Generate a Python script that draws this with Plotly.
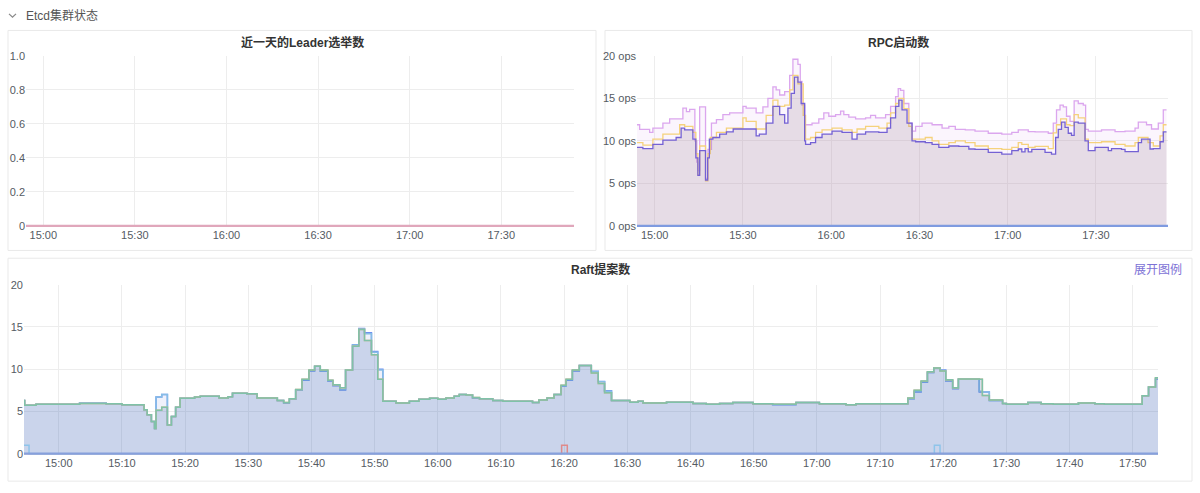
import plotly.graph_objects as go

W, H = 1200, 493
DAY = "2024-01-01 "

# ---------------- data ----------------
leader_times = ["14:54:00", "17:54:00"]
leader_values = [0, 0]

rpc_pink_times = ["14:54:00","14:54:54","14:58:18","14:59:24","15:02:48","15:05:06","15:09:36","15:10:48","15:11:54","15:13:00","15:13:40","15:14:20","15:14:42","15:15:18","15:17:18","15:18:06","15:19:18","15:21:00","15:23:12","15:25:30","15:30:00","15:31:06","15:34:30","15:36:48","15:38:30","15:40:12","15:41:18","15:42:30","15:44:12","15:45:54","15:47:00","15:48:42","15:49:30","15:50:06","15:51:00","15:53:30","15:55:48","15:57:30","15:59:12","16:01:30","16:03:12","16:04:18","16:06:00","16:08:18","16:11:42","16:13:24","16:15:06","16:18:30","16:20:12","16:21:54","16:22:48","16:23:36","16:24:42","16:26:24","16:27:30","16:28:42","16:30:54","16:34:18","16:37:42","16:40:00","16:42:12","16:45:36","16:48:54","16:53:24","16:58:00","17:01:24","17:03:36","17:07:00","17:09:18","17:13:48","17:15:30","17:16:36","17:17:48","17:18:54","17:20:00","17:21:12","17:22:36","17:24:00","17:25:42","17:26:30","17:27:24","17:31:54","17:36:30","17:39:54","17:43:18","17:44:24","17:47:12","17:48:54","17:51:12","17:52:54","17:54:00"]
rpc_pink = [11.9,11.35,11.0,11.5,12.1,12.6,13.85,13.45,13.7,13.7,10.0,7.5,6.5,14.0,5.6,9.0,12.1,12.5,13.1,13.3,14.05,13.85,13.3,14.0,15.0,16.35,16.0,15.4,15.8,17.7,19.6,19.0,17.0,14.2,11.9,12.1,12.6,13.3,12.9,13.1,13.5,13.1,12.8,12.6,12.7,13.0,12.7,13.1,14.05,15.2,16.15,15.95,14.4,12.1,11.15,11.7,12.1,11.9,11.5,11.7,11.35,11.3,11.15,10.9,10.8,11.0,11.3,11.1,11.05,10.9,12.1,13.65,14.2,14.0,12.9,12.3,14.7,14.4,14.2,11.35,11.15,11.3,11.1,11.15,11.5,12.2,11.9,11.4,12.1,13.65,13.65]

rpc_yellow_times = ["14:54:00","14:56:00","14:59:24","15:02:48","15:08:30","15:10:12","15:13:00","15:14:00","15:14:42","15:15:18","15:17:18","15:18:06","15:18:54","15:21:00","15:24:24","15:30:00","15:31:06","15:34:30","15:37:54","15:40:12","15:41:54","15:44:12","15:45:54","15:47:00","15:48:42","15:50:30","15:51:18","15:53:00","15:54:42","15:56:54","16:00:18","16:03:42","16:07:06","16:08:48","16:11:42","16:16:12","16:19:00","16:20:12","16:21:54","16:23:00","16:24:42","16:26:24","16:27:30","16:32:00","16:34:18","16:36:36","16:40:00","16:42:12","16:45:36","16:48:54","16:53:24","16:58:00","17:01:24","17:03:36","17:04:48","17:07:00","17:09:18","17:13:48","17:15:30","17:16:36","17:18:00","17:20:00","17:21:12","17:22:36","17:24:00","17:26:18","17:27:24","17:31:54","17:36:30","17:39:54","17:43:18","17:44:24","17:47:42","17:49:30","17:51:48","17:52:54","17:54:00"]
rpc_yellow = [9.8,9.5,10.2,10.8,11.9,11.7,11.0,8.5,6.0,9.4,5.3,8.5,10.4,11.0,11.5,12.7,12.3,11.4,13.0,14.8,14.05,14.2,16.0,17.7,16.7,13.0,10.2,10.4,11.0,11.3,11.5,11.3,11.0,11.4,11.7,11.5,12.1,13.3,14.4,15.0,13.8,11.7,10.2,10.4,10.0,9.6,9.8,10.0,9.8,9.4,9.1,9.0,9.25,9.8,9.6,9.25,9.35,9.1,10.95,11.9,12.6,11.9,11.8,13.1,12.7,10.2,9.8,9.9,9.6,9.4,9.8,10.4,9.8,9.4,10.6,11.9,11.9]

rpc_purple_times = ["14:54:00","14:56:00","14:59:24","15:02:48","15:07:18","15:09:00","15:10:12","15:13:00","15:14:00","15:14:42","15:15:18","15:17:18","15:18:00","15:18:36","15:19:48","15:22:06","15:24:24","15:26:42","15:34:30","15:35:36","15:37:54","15:40:12","15:42:30","15:44:12","15:45:18","15:46:24","15:47:30","15:48:42","15:49:48","15:51:00","15:51:18","15:53:00","15:54:42","15:56:54","16:00:18","16:03:42","16:07:06","16:08:48","16:11:42","16:16:12","16:19:00","16:20:12","16:21:54","16:23:00","16:24:06","16:25:48","16:27:30","16:28:42","16:32:00","16:34:18","16:36:36","16:40:00","16:43:24","16:46:48","16:48:54","16:53:24","16:58:00","17:01:24","17:03:36","17:04:48","17:05:54","17:07:00","17:08:12","17:12:42","17:14:54","17:16:18","17:17:12","17:18:18","17:19:30","17:20:36","17:21:42","17:22:36","17:24:00","17:26:18","17:27:24","17:29:42","17:34:12","17:35:18","17:38:42","17:39:54","17:44:24","17:45:30","17:48:24","17:49:30","17:51:48","17:52:54","17:54:00"]
rpc_purple = [9.25,9.1,9.6,10.1,10.4,11.5,11.3,10.2,8.0,5.95,8.85,5.4,8.0,10.2,10.4,10.8,11.05,11.4,10.6,10.8,12.1,14.05,13.1,12.1,13.85,15.6,17.5,16.9,14.4,10.0,9.6,9.8,10.4,10.8,11.15,11.0,10.2,10.8,11.05,11.0,11.5,12.7,14.05,14.8,13.65,12.1,10.0,9.9,9.8,9.6,9.25,9.4,9.35,9.05,9.0,8.65,8.45,8.85,9.05,8.7,9.1,8.7,9.0,8.65,8.45,10.4,11.35,12.2,11.6,10.9,10.65,12.2,12.1,10.0,8.85,9.25,8.85,9.1,9.0,8.75,9.8,10.2,9.05,9.1,9.9,11.05,11.05]

rpc_zero_times = ["14:54:00", "17:54:30"]
rpc_zero = [0, 0]

raft_times = ["14:54:00","14:54:36","14:56:24","15:03:18","15:07:30","15:10:00","15:13:30","15:14:00","15:14:40","15:15:10","15:15:24","15:16:18","15:17:12","15:17:50","15:18:30","15:19:12","15:21:30","15:22:24","15:25:24","15:26:48","15:27:30","15:29:48","15:31:24","15:34:36","15:35:36","15:36:30","15:37:30","15:38:30","15:39:36","15:40:30","15:41:24","15:42:36","15:43:24","15:44:30","15:45:24","15:46:30","15:47:30","15:48:24","15:49:30","15:50:30","15:51:18","15:53:24","15:55:30","15:57:00","15:58:42","16:00:00","16:01:18","16:02:36","16:03:24","16:04:30","16:05:30","16:06:36","16:08:42","16:10:18","16:15:00","16:16:00","16:17:18","16:18:24","16:19:30","16:20:18","16:21:18","16:22:24","16:24:18","16:25:24","16:26:24","16:27:30","16:30:24","16:31:42","16:32:30","16:36:12","16:40:24","16:42:30","16:44:36","16:46:42","16:49:54","16:53:00","16:56:42","17:00:24","17:04:36","17:06:12","17:14:24","17:15:24","17:16:30","17:17:30","17:18:30","17:19:30","17:20:24","17:21:30","17:22:24","17:25:42","17:26:12","17:27:18","17:29:24","17:30:00","17:33:24","17:35:30","17:37:24","17:41:24","17:44:00","17:45:30","17:51:30","17:52:30","17:53:36","17:54:00"]
raft_blue = [6.3,5.75,5.85,6.0,5.9,5.8,5.2,4.6,3.8,3.0,6.7,7.0,3.4,4.4,5.5,6.55,6.7,6.8,6.6,6.75,7.15,7.1,6.6,6.3,6.0,6.45,7.5,8.7,9.8,10.35,9.75,8.6,8.05,7.55,9.9,12.9,14.8,14.3,12.1,10.0,6.2,6.0,6.2,6.45,6.55,6.45,6.6,6.8,7.0,6.95,6.6,6.5,6.3,6.2,6.05,6.35,6.6,7.0,8.0,8.7,9.8,10.45,9.75,8.55,7.45,6.3,6.1,6.2,6.0,6.1,5.95,5.85,5.95,6.05,5.9,5.8,6.05,5.9,5.8,5.9,6.5,7.3,8.45,9.6,10.15,9.9,8.6,7.7,8.8,7.3,7.3,6.3,5.95,5.85,6.05,5.9,5.85,6.0,5.9,5.85,6.85,7.9,8.8,8.8]
raft_cyan = [6.3,5.75,5.85,6.0,5.9,5.8,5.2,4.6,3.8,3.0,6.7,7.0,3.4,4.4,5.5,6.55,6.7,6.8,6.6,6.75,7.15,7.1,6.6,6.3,6.0,6.45,7.5,8.75,9.85,10.35,9.8,8.65,8.1,7.6,9.9,12.85,14.75,14.2,12.0,9.9,6.2,6.0,6.2,6.45,6.55,6.45,6.6,6.8,7.0,6.95,6.6,6.5,6.3,6.2,6.05,6.35,6.6,7.0,8.05,8.75,9.85,10.45,9.7,8.5,7.4,6.3,6.1,6.2,6.0,6.1,5.95,5.85,5.95,6.05,5.9,5.85,6.05,5.9,5.8,5.9,6.5,7.35,8.5,9.6,10.15,9.85,8.65,7.75,8.8,7.4,7.3,6.3,5.95,5.85,6.05,5.9,5.85,6.0,5.9,5.85,6.85,7.9,8.85,8.85]
raft_orange = [6.3,5.75,5.85,5.95,5.9,5.8,5.2,4.6,3.8,3.0,5.15,5.5,3.4,4.4,5.5,6.55,6.7,6.8,6.6,6.75,7.15,7.1,6.6,6.3,6.05,6.5,7.6,8.8,9.9,10.35,9.9,8.7,8.15,7.8,9.9,12.7,14.7,13.4,11.7,8.8,6.2,6.0,6.2,6.45,6.55,6.45,6.6,6.8,7.0,6.95,6.65,6.5,6.3,6.2,6.05,6.35,6.6,7.0,8.1,8.8,9.9,10.45,9.55,8.3,7.2,6.3,6.1,6.2,6.0,6.1,5.95,5.85,5.95,6.05,5.9,5.85,6.05,5.9,5.8,5.9,6.6,7.5,8.6,9.7,10.15,9.8,8.75,7.8,8.85,8.8,6.9,6.35,5.95,5.85,6.05,5.9,5.85,6.0,5.9,5.85,6.85,7.9,9.0,9.0]
raft_green = [6.3,5.75,5.85,5.95,5.9,5.8,5.2,4.6,3.8,3.0,5.15,5.5,3.4,4.4,5.5,6.55,6.7,6.8,6.6,6.75,7.15,7.1,6.6,6.3,6.05,6.5,7.6,8.8,9.9,10.35,9.9,8.7,8.15,7.8,9.9,12.7,14.7,13.4,11.7,8.8,6.2,6.0,6.2,6.45,6.55,6.45,6.6,6.8,7.0,6.95,6.65,6.5,6.3,6.2,6.05,6.35,6.6,7.0,8.1,8.8,9.9,10.45,9.55,8.3,7.2,6.3,6.1,6.2,6.0,6.1,5.95,5.85,5.95,6.05,5.9,5.85,6.05,5.9,5.8,5.9,6.6,7.5,8.6,9.7,10.15,9.8,8.75,7.8,8.85,8.8,6.9,6.35,5.95,5.85,6.05,5.9,5.85,6.0,5.9,5.85,6.85,7.9,9.0,9.0]

raft_spike_cyan_times = ["14:54:00","14:54:18","14:55:18","17:18:36","17:19:30","17:54:00"]
raft_spike_cyan = [0, 1, 0, 1, 0, 0]
raft_spike_red_times = ["14:54:00","16:19:36","16:20:30","17:54:00"]
raft_spike_red = [0, 1, 0, 0]
raft_zero_times = ["14:54:00", "17:54:00"]
raft_zero = [0, 0]

leader_yticks = [0, 0.2, 0.4, 0.6, 0.8, 1.0]
leader_ylabels = ["0", "0.2", "0.4", "0.6", "0.8", "1.0"]
rpc_yticks = [0, 5, 10, 15, 20]
rpc_ylabels = ["0 ops", "5 ops", "10 ops", "15 ops", "20 ops"]
raft_yticks = [0, 5, 10, 15, 20]
raft_ylabels = ["0", "5", "10", "15", "20"]

# --------------- helpers ---------------
def T(lst):
    return [DAY + t for t in lst]

def X(px):
    return px / W

def Y(py):
    return 1 - py / H

FONT = "Helvetica, Arial, 'Liberation Sans', 'Noto Sans CJK SC', sans-serif"
GRID = "#ededed"
TICK = "#555b63"

fig = go.Figure()

# leader panel
fig.add_trace(go.Scatter(x=T(leader_times), y=leader_values, mode="lines",
                         line=dict(color="#e0a7bb", width=2.5), xaxis="x", yaxis="y",
                         hoverinfo="skip"))

# RPC panel
def rpc_trace(t, v, color, fillcolor):
    fig.add_trace(go.Scatter(x=T(t), y=v, mode="lines", line=dict(color=color, width=1.3, shape="hv"),
                             fill="tozeroy", fillcolor=fillcolor, xaxis="x2", yaxis="y2",
                             hoverinfo="skip"))

rpc_trace(rpc_pink_times, rpc_pink, "#dba6ee", "rgba(225,170,240,0.12)")
rpc_trace(rpc_yellow_times, rpc_yellow, "#f5d27c", "rgba(240,210,140,0.0)")
rpc_trace(rpc_purple_times, rpc_purple, "#7461d4", "rgba(150,120,140,0.20)")
fig.add_trace(go.Scatter(x=T(rpc_zero_times), y=rpc_zero, mode="lines",
                         line=dict(color="#7f9be0", width=2.5), xaxis="x2", yaxis="y2",
                         hoverinfo="skip"))

# Raft panel
def raft_trace(v, color, fillcolor):
    fig.add_trace(go.Scatter(x=T(raft_times), y=v, mode="lines", line=dict(color=color, width=1.5, shape="hv"),
                             fill="tozeroy" if fillcolor else None, fillcolor=fillcolor,
                             xaxis="x3", yaxis="y3", hoverinfo="skip"))

raft_trace(raft_blue, "#6d8ff0", "rgba(100,120,220,0.10)")
raft_trace(raft_cyan, "#86bde6", None)
raft_trace(raft_orange, "#e2b48c", "rgba(57,99,174,0.20)")
raft_trace(raft_green, "#7fc2a8", None)
fig.add_trace(go.Scatter(x=T(raft_spike_red_times), y=raft_spike_red, mode="lines",
                         line=dict(color="#df8a8a", width=1.5, shape="hv"), xaxis="x3", yaxis="y3",
                         hoverinfo="skip"))
fig.add_trace(go.Scatter(x=T(raft_spike_cyan_times), y=raft_spike_cyan, mode="lines",
                         line=dict(color="#8ec4ea", width=1.5, shape="hv"), xaxis="x3", yaxis="y3",
                         hoverinfo="skip"))
fig.add_trace(go.Scatter(x=T(raft_zero_times), y=raft_zero, mode="lines",
                         line=dict(color="#86a0dc", width=2.5), xaxis="x3", yaxis="y3",
                         hoverinfo="skip"))

xcommon = dict(showgrid=True, gridcolor=GRID, gridwidth=1, zeroline=False, showline=False,
               ticks="", tickformat="%H:%M", tickfont=dict(size=11, color=TICK, family=FONT),
               fixedrange=True)
ycommon = dict(showgrid=True, gridcolor=GRID, gridwidth=1, zeroline=False, showline=False,
               ticks="", tickfont=dict(size=11, color=TICK, family=FONT), fixedrange=True)

fig.update_layout(
    width=W, height=H, autosize=False,
    margin=dict(l=0, r=0, t=0, b=0),
    paper_bgcolor="white", plot_bgcolor="white",
    showlegend=False,
    font=dict(family=FONT),
    xaxis=dict(xcommon, domain=[X(26), X(574)], anchor="y",
               range=[DAY + "14:54:20", DAY + "17:53:50"],
               dtick=30 * 60 * 1000, tick0=DAY + "15:00:00"),
    yaxis=dict(ycommon, domain=[Y(226), Y(51)], anchor="x", range=[-0.006, 1.0],
               tickvals=leader_yticks, ticktext=leader_ylabels),
    xaxis2=dict(xcommon, domain=[X(637), X(1168)], anchor="y2",
                range=[DAY + "14:54:00", DAY + "17:54:30"],
                dtick=30 * 60 * 1000, tick0=DAY + "15:00:00"),
    yaxis2=dict(ycommon, domain=[Y(226), Y(51)], anchor="x2", range=[-0.12, 20],
                tickvals=rpc_yticks, ticktext=rpc_ylabels),
    xaxis3=dict(xcommon, domain=[X(24), X(1158)], anchor="y3",
                range=[DAY + "14:54:30", DAY + "17:54:00"],
                dtick=10 * 60 * 1000, tick0=DAY + "15:00:00"),
    yaxis3=dict(ycommon, domain=[Y(459), Y(285)], anchor="x3", range=[-0.12, 20],
                tickvals=raft_yticks, ticktext=raft_ylabels),
)

# panel frames
for x0, y0, x1, y1 in [(8, 25, 596, 250), (605, 25, 1192, 250), (8, 258, 1192, 486)]:
    fig.add_shape(type="rect", xref="paper", yref="paper", x0=X(x0), x1=X(x1), y0=Y(y1), y1=Y(y0),
                  line=dict(color="#e9e9e9", width=1), fillcolor="rgba(0,0,0,0)", layer="below")

# chevron
fig.add_shape(type="path", xref="paper", yref="paper",
              path=f"M {X(9)} {Y(8)} L {X(12.5)} {Y(11.5)} L {X(16)} {Y(8)}",
              line=dict(color="#888", width=1.2))

def ann(text, px, py, size=12, color="#333", bold=False, anchor="center"):
    fig.add_annotation(text=f"<b>{text}</b>" if bold else text, x=X(px), y=Y(py),
                       xref="paper", yref="paper", showarrow=False, xanchor=anchor, yanchor="middle",
                       font=dict(size=size, color=color, family=FONT))

ann("Etcd集群状态", 24, 10, size=12, color="#555", anchor="left")
ann("近一天的Leader选举数", 302, 37, size=12, bold=True)
ann("RPC启动数", 898, 37, size=12, bold=True)
ann("Raft提案数", 600, 270, size=12, bold=True)
ann("展开图例", 1184, 270, size=12, color="#7d72d6", anchor="right")

fig.write_html("out.html",
               config={"displayModeBar": False, "staticPlot": True},
               post_script="document.body.style.margin='0';document.body.style.overflow='hidden';")
